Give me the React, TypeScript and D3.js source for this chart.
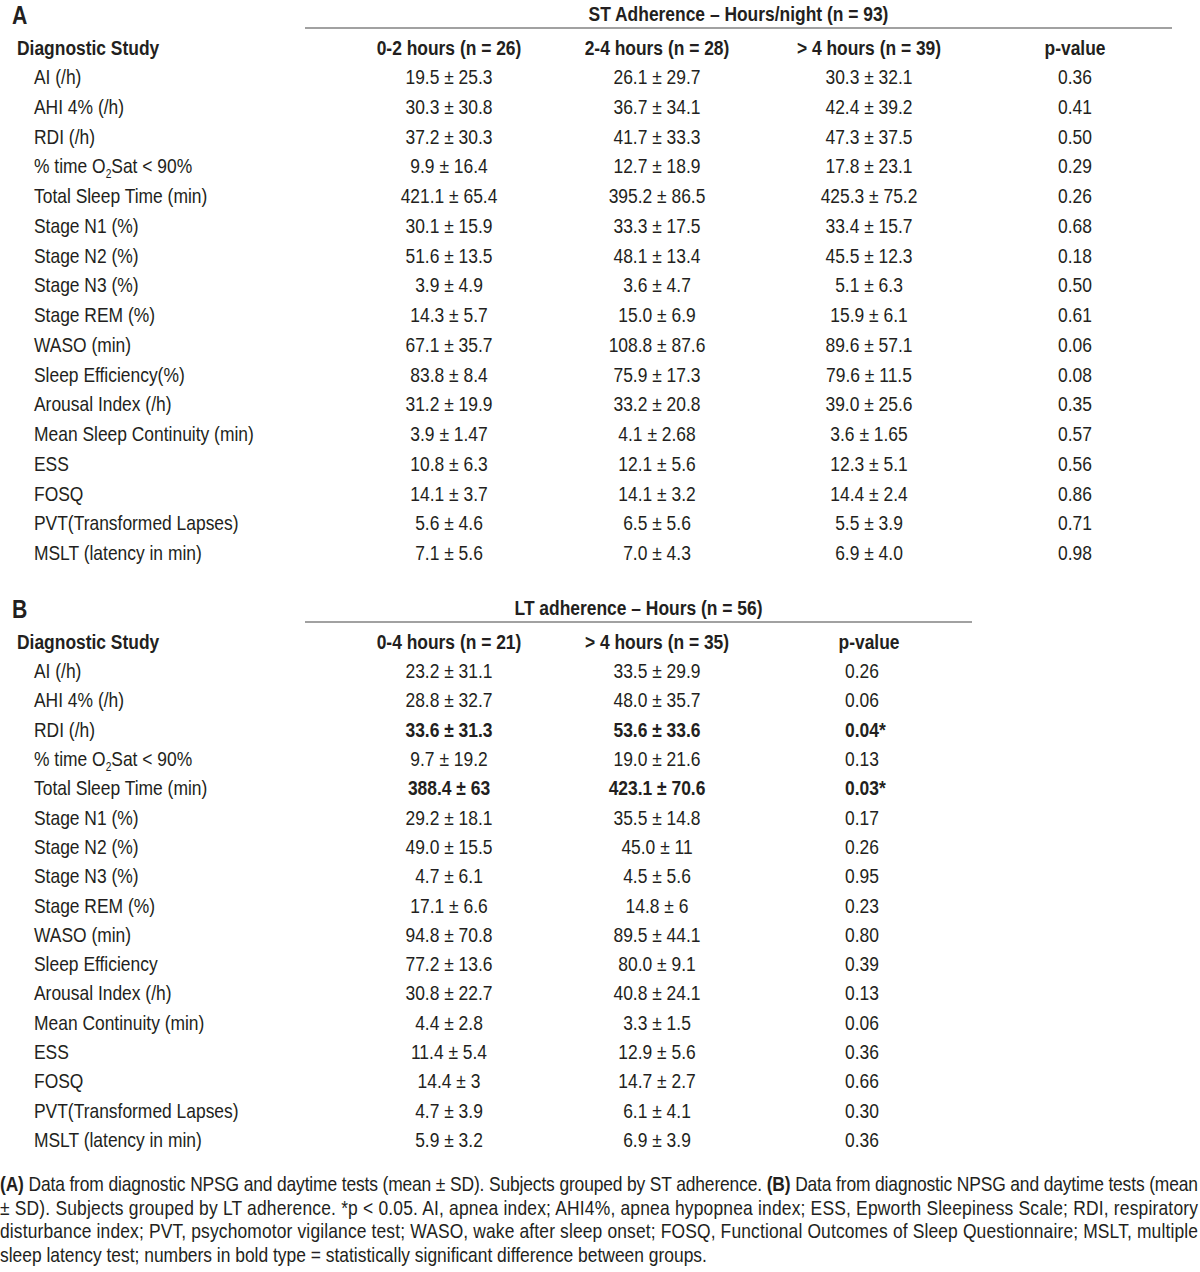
import React from 'react';
import * as d3 from 'd3';

// rows shared by both panels (A uses "Sleep Efficiency(%)" / "Mean Sleep Continuity (min)")
const labelsA = [
  'AI (/h)', 'AHI 4% (/h)', 'RDI (/h)', 'O2SAT', 'Total Sleep Time (min)', 'Stage N1 (%)',
  'Stage N2 (%)', 'Stage N3 (%)', 'Stage REM (%)', 'WASO (min)', 'Sleep Efficiency(%)',
  'Arousal Index (/h)', 'Mean Sleep Continuity (min)', 'ESS', 'FOSQ', 'PVT(Transformed Lapses)',
  'MSLT (latency in min)',
];
const labelsB = [
  'AI (/h)', 'AHI 4% (/h)', 'RDI (/h)', 'O2SAT', 'Total Sleep Time (min)', 'Stage N1 (%)',
  'Stage N2 (%)', 'Stage N3 (%)', 'Stage REM (%)', 'WASO (min)', 'Sleep Efficiency',
  'Arousal Index (/h)', 'Mean Continuity (min)', 'ESS', 'FOSQ', 'PVT(Transformed Lapses)',
  'MSLT (latency in min)',
];

const headersA = ['0-2 hours (n = 26)', '2-4 hours (n = 28)', '> 4 hours (n = 39)', 'p-value'];
const headersB = ['0-4 hours (n = 21)', '> 4 hours (n = 35)', 'p-value'];

const a0to2 = ['19.5 ± 25.3', '30.3 ± 30.8', '37.2 ± 30.3', '9.9 ± 16.4', '421.1 ± 65.4', '30.1 ± 15.9',
  '51.6 ± 13.5', '3.9 ± 4.9', '14.3 ± 5.7', '67.1 ± 35.7', '83.8 ± 8.4', '31.2 ± 19.9', '3.9 ± 1.47',
  '10.8 ± 6.3', '14.1 ± 3.7', '5.6 ± 4.6', '7.1 ± 5.6'];
const a2to4 = ['26.1 ± 29.7', '36.7 ± 34.1', '41.7 ± 33.3', '12.7 ± 18.9', '395.2 ± 86.5', '33.3 ± 17.5',
  '48.1 ± 13.4', '3.6 ± 4.7', '15.0 ± 6.9', '108.8 ± 87.6', '75.9 ± 17.3', '33.2 ± 20.8', '4.1 ± 2.68',
  '12.1 ± 5.6', '14.1 ± 3.2', '6.5 ± 5.6', '7.0 ± 4.3'];
const aOver4 = ['30.3 ± 32.1', '42.4 ± 39.2', '47.3 ± 37.5', '17.8 ± 23.1', '425.3 ± 75.2', '33.4 ± 15.7',
  '45.5 ± 12.3', '5.1 ± 6.3', '15.9 ± 6.1', '89.6 ± 57.1', '79.6 ± 11.5', '39.0 ± 25.6', '3.6 ± 1.65',
  '12.3 ± 5.1', '14.4 ± 2.4', '5.5 ± 3.9', '6.9 ± 4.0'];
const aP = ['0.36', '0.41', '0.50', '0.29', '0.26', '0.68', '0.18', '0.50', '0.61', '0.06', '0.08',
  '0.35', '0.57', '0.56', '0.86', '0.71', '0.98'];

const b0to4 = ['23.2 ± 31.1', '28.8 ± 32.7', '33.6 ± 31.3', '9.7 ± 19.2', '388.4 ± 63', '29.2 ± 18.1',
  '49.0 ± 15.5', '4.7 ± 6.1', '17.1 ± 6.6', '94.8 ± 70.8', '77.2 ± 13.6', '30.8 ± 22.7', '4.4 ± 2.8',
  '11.4 ± 5.4', '14.4 ± 3', '4.7 ± 3.9', '5.9 ± 3.2'];
const bOver4 = ['33.5 ± 29.9', '48.0 ± 35.7', '53.6 ± 33.6', '19.0 ± 21.6', '423.1 ± 70.6', '35.5 ± 14.8',
  '45.0 ± 11', '4.5 ± 5.6', '14.8 ± 6', '89.5 ± 44.1', '80.0 ± 9.1', '40.8 ± 24.1', '3.3 ± 1.5',
  '12.9 ± 5.6', '14.7 ± 2.7', '6.1 ± 4.1', '6.9 ± 3.9'];
const bP = ['0.26', '0.06', '0.04*', '0.13', '0.03*', '0.17', '0.26', '0.95', '0.23', '0.80', '0.39',
  '0.13', '0.06', '0.36', '0.66', '0.30', '0.36'];
const boldB = ['RDI (/h)', 'Total Sleep Time (min)'];

const footLines = [
  [['(A)', true], [' Data from diagnostic NPSG and daytime tests (mean ± SD). Subjects grouped by ST adherence. ', false],
    ['(B)', true], [' Data from diagnostic NPSG and daytime tests (mean', false]],
  [['± SD). Subjects grouped by LT adherence. *p < 0.05. AI, apnea index; AHI4%, apnea hypopnea index; ESS, Epworth Sleepiness Scale; RDI, respiratory', false]],
  [['disturbance index; PVT, psychomotor vigilance test; WASO, wake after sleep onset; FOSQ, Functional Outcomes of Sleep Questionnaire; MSLT, multiple', false]],
  [['sleep latency test; numbers in bold type = statistically significant difference between groups.', false]],
] as [string, boolean][][];

const W = 1200;
const H = 1272;
const FONT = '"Liberation Sans", Arial, sans-serif';
const INK = '#231f20';
const FS = 20.5;
const SX = 0.85; // narrow look: squeeze Liberation Sans horizontally

// text with a horizontal squeeze, positioned in page px
function T({ x, y, anchor, bold, size, children, len }: any) {
  return (
    <text transform={`translate(${x},${y}) scale(${SX},1)`} textAnchor={anchor || 'start'}
      fontWeight={bold ? 'bold' : 'normal'} fontSize={size}
      textLength={len ? len / SX : undefined} lengthAdjust={len ? 'spacing' : undefined}>
      {children}
    </text>
  );
}

function Label({ x, y, text }: { x: number; y: number; text: string }) {
  if (text === 'O2SAT') {
    return (
      <T x={x} y={y}>
        % time O<tspan fontSize={12} dy={5}>2</tspan><tspan dy={-5}>Sat {'<'} 90%</tspan>
      </T>
    );
  }
  return <T x={x} y={y}>{text}</T>;
}

function Panel({ letter, title, top, bottom, lineX, labels, headers, cols, colX, pAnchor, bold }: any) {
  const y = d3.scalePoint<string>().domain(d3.range(labels.length).map(String)).range([top, bottom]);
  return (
    <g>
      <T x={12} y={top - 53} size={25} bold>{letter}</T>
      <T x={(lineX[0] + lineX[1]) / 2} y={top - 56} anchor="middle" bold>{title}</T>
      <line x1={lineX[0]} x2={lineX[1]} y1={top - 49} y2={top - 49} stroke="#444" strokeWidth={1.2} />
      <T x={17} y={top - 22} bold>Diagnostic Study</T>
      {headers.map((h: string, j: number) => (
        <T key={h} x={colX[j]} y={top - 22} anchor="middle" bold>{h}</T>
      ))}
      {labels.map((lab: string, i: number) => {
        const yy = (y(String(i)) as number) + 7;
        const isBold = bold.includes(lab);
        return (
          <g key={lab}>
            <Label x={34} y={yy} text={lab} />
            {cols.map((c: string[], j: number) => {
              const last = j === cols.length - 1;
              return (
                <T key={j} x={last && pAnchor === 'start' ? colX[j] - 24 : colX[j]} y={yy}
                  anchor={last ? pAnchor : 'middle'} bold={isBold}>
                  {c[i]}
                </T>
              );
            })}
          </g>
        );
      })}
    </g>
  );
}

export default function App() {
  return (
    <svg width={W} height={H} style={{ position: 'absolute', left: 0, top: 0, display: 'block' }}
      fontFamily={FONT} fontSize={FS} fill={INK}>
      <rect width={W} height={H} fill="#fff" />
      <Panel letter="A" title="ST Adherence – Hours/night (n = 93)" top={77} bottom={553}
        lineX={[305, 1172]} labels={labelsA} headers={headersA}
        cols={[a0to2, a2to4, aOver4, aP]} colX={[449, 657, 869, 1075]} pAnchor="middle" bold={[]} />
      <Panel letter="B" title="LT adherence – Hours (n = 56)" top={671} bottom={1140}
        lineX={[305, 972]} labels={labelsB} headers={headersB}
        cols={[b0to4, bOver4, bP]} colX={[449, 657, 869]} pAnchor="start" bold={boldB} />
      {footLines.map((line, i) => (
        <T key={i} x={0} y={1191 + i * 23.5} size={20.5} len={i < 3 ? 1198 : undefined}>
          {line.map(([t, b], k) => (
            <tspan key={k} fontWeight={b ? 'bold' : 'normal'}>{t}</tspan>
          ))}
        </T>
      ))}
    </svg>
  );
}
